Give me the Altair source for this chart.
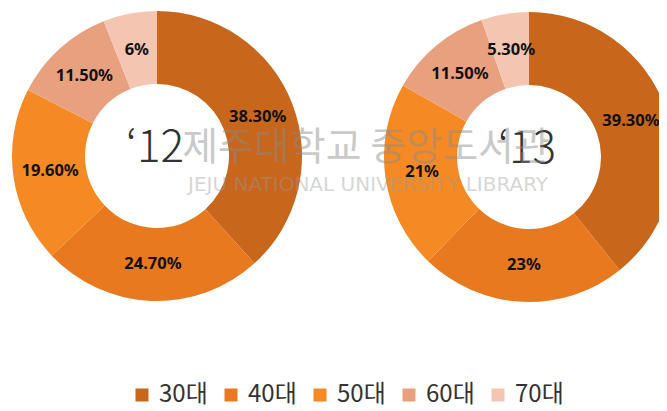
import altair as alt
import pandas as pd

categories = ["30대", "40대", "50대", "60대", "70대"]
values_12 = [38.3, 24.7, 19.6, 11.5, 6.0]
labels_12 = ["38.30%", "24.70%", "19.60%", "11.50%", "6%"]
values_13 = [39.3, 23.0, 21.0, 11.5, 5.3]
labels_13 = ["39.30%", "23%", "21%", "11.50%", "5.30%"]
years = ["\u201812", "\u201813"]
watermark_ko = ["제주대학교 중앙도서관"]
watermark_en = ["JEJU NATIONAL UNIVERSITY   LIBRARY"]
colors = ["#C8661C", "#E8791F", "#F58A24", "#E9A07F", "#F4C5B0"]

df12 = pd.DataFrame({"cat": categories, "val": values_12, "label": labels_12, "idx": list(range(5))})
df13 = pd.DataFrame({"cat": categories, "val": values_13, "label": labels_13, "idx": list(range(5))})

color = alt.Color(
    "cat:N",
    scale=alt.Scale(domain=categories, range=colors),
    sort=categories,
    legend=alt.Legend(
        title=None, orient="none", legendX=122, legendY=375, direction="horizontal",
        symbolType="square", symbolSize=169, symbolStrokeWidth=0,
        labelFontSize=24, labelFont="Noto Sans CJK KR", labelColor="#333333",
        columnPadding=11, labelOffset=5, labelLimit=300,
    ),
)

R_OUT, R_IN, R_LAB = 145, 72, 108


def donut(df, cx, cy, year):
    base = alt.Chart(df).encode(
        theta=alt.Theta("val:Q", stack=True),
        order=alt.Order("idx:Q"),
    )
    arc = base.mark_arc(outerRadius=R_OUT, innerRadius=R_IN, clip=True).encode(
        color=color, x=alt.value(cx), y=alt.value(cy)
    )
    text = base.mark_text(
        radius=R_LAB, fontSize=16.5, fontWeight="bold", font="Noto Sans", color="#111111"
    ).encode(text="label:N", x=alt.value(cx), y=alt.value(cy))
    center = alt.Chart(pd.DataFrame({"t": [year]})).mark_text(
        fontSize=44, font="Noto Sans CJK KR", fontWeight=300, color="#333333"
    ).encode(text="t:N", x=alt.value(cx - 2), y=alt.value(cy - 7))
    return [arc, text, center]


wm1 = alt.Chart(pd.DataFrame({"t": watermark_ko})).mark_text(
    fontSize=39, font="Noto Sans CJK KR", color="#8a8a8a", opacity=0.45
).encode(text="t:N", x=alt.value(358), y=alt.value(140))
wm2 = alt.Chart(pd.DataFrame({"t": watermark_en})).mark_text(
    fontSize=20, font="DejaVu Sans", color="#9a9a9a", opacity=0.4
).encode(text="t:N", x=alt.value(360), y=alt.value(177))

layers = donut(df12, 149, 148, years[0]) + donut(df13, 521, 149, years[1]) + [wm1, wm2]

chart = alt.layer(*layers).properties(
    width=651, height=400, autosize=alt.AutoSizeParams(type="none"), padding=0
).configure_view(strokeWidth=0)

chart.save("out.html", embed_options={"renderer": "svg", "actions": False})
